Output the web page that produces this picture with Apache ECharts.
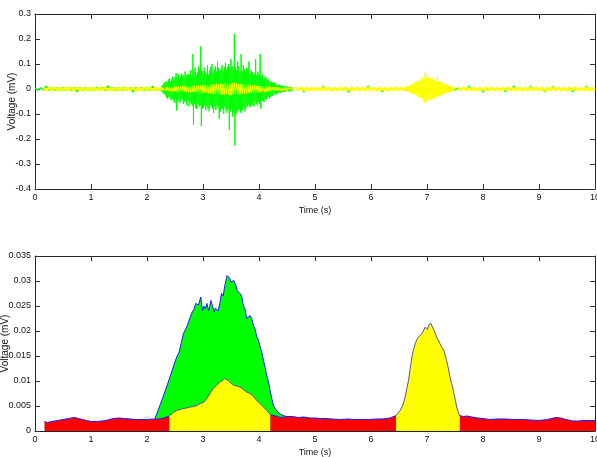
<!DOCTYPE html>
<html>
<head>
<meta charset="utf-8">
<script src="https://cdn.jsdelivr.net/npm/echarts@6/dist/echarts.min.js"></script>
<style>
  html, body { margin: 0; padding: 0; background: #fff; }
  #chart { width: 597px; height: 457px; }
</style>
</head>
<body>
<div id="chart"></div>
<script>
// ---- raw signals (top panel), values in uV, plotted in mV ----
// each block: start time, step (s), samples
var greenQuietA = [4,-5,5,-4,11,-5,4,-5,5,-4, 5,-4,4,-5,5,-11,4,-5,5,-4, 4,-5,5,-4,5,-5,12,-4,5,-5, 4,-5,5,-4,4,-11,5,-4,5,-5, 4,-5,11,-5,4];
var greenBurst = [
  6,-8,10,-12,15,-18,22,-20,28,-25,
  30,-35,25,-40,38,-30,42,-36,30,-45,
  40,-38,50,-45,35,-55,48,-40,64,-86,
  45,-50,60,-42,38,-55,50,-48,62,-40,
  55,-60,45,-52,70,-48,58,-65,50,-45,
  60,-70,55,-50,75,-60,48,-66,140,-144,
  70,-60,85,-75,55,-80,66,-58,90,-70,
  80,-65,170,-148,72,-80,60,-75,85,-66,
  70,-85,62,-70,95,-78,58,-90,75,-64,
  88,-72,100,-80,65,-95,78,-70,90,-84,
  70,-66,110,-75,85,-120,72,-90,80,-76,
  95,-80,70,-100,88,-72,105,-85,78,-95,
  90,-80,100,-164,85,-90,120,-78,92,-110,
  80,-95,220,-226,88,-100,75,-90,110,-85,
  90,-80,70,-95,140,-88,72,-84,95,-70,
  80,-90,66,-75,85,-68,78,-62,110,-70,
  60,-72,75,-58,68,-66,55,-70,62,-50,
  120,-60,55,-65,70,-52,58,-60,140,-78,
  50,-45,58,-48,40,-52,45,-38,50,-42,
  38,-35,42,-30,35,-40,28,-32,30,-26,
  25,-28,22,-20,26,-18,20,-22,16,-18,
  15,-14,18,-12,14,-16,12,-10,14,-12,
  10,-12,9,-11,12,-8,10,-9,8,-10,
  9,-7,8,-9,7,-8,6
];
var greenQuietB = [
  5,-4,4,-11,5,-4,5,-5,4,-5, 11,-4,5,-5,4,-5,5,-4,4,-12,
  5,-4,5,-5,4,-4,12,-5,4,-5, 5,-11,4,-5,5,-4,5,-4,4,-5,
  4,-5,11,-4,5,-5,4,-5,5,-11, 5,-4,4,-5,12,-4,5,-5,4,-5,
  5,-4,11,-5,4,-5,5,-12,4,-5, 4,-5,5,-4,5,-11,4,-5,11,-4,
  5,-5,4,-5,12,-4,5,-5,4,-11, 5,-4,11,-5,4,-5,5,-4,5,-11,
  4,-5,5,-4,11,-5,4,-5
];
var yellowQuietA = [4,-5,5,-4,6,-5,4,-6,5,-4, 5,-5,6,-4,4,-5,5,-6,4,-5, 6,-4,5,-5,4,-6,5,-4,6,-5, 4,-5,5,-6,4,-4,6,-5,5,-4, 5,-6,4,-5];
var yellowBurstA = [
  7,-8,9,-7,10,-9,8,-10,11,-9,
  10,-12,9,-11,12,-10,13,-11,10,-12,
  12,-13,11,-14,13,-12,15,-13,12,-14,
  14,-15,13,-16,15,-14,17,-15,16,-18,
  18,-17,20,-19,17,-21,22,-18,20,-22,
  21,-24,19,-22,25,-20,23,-24,21,-25,
  24,-22,26,-21,22,-24,20,-23,21,-19,
  19,-20,17,-18,18,-16,17,-15,14,-16,
  15,-14,13,-15,12,-13,12,-11,11,-12,
  10,-11,10,-9,9,-10,8,-9,8,-7,
  8,-7,7,-8,6,-7,7,-6,6,-7,
  6,-5,6,-6,5,-6
];
var yellowQuietB = [5,-4,6,-5,4,-6,5,-5,4,-5, 6,-4,5,-6,4,-5,5,-4,6,-5, 4,-6,5,-4,5,-5,6,-4,4,-6, 5,-5,4,-6,5,-4,6,-5,5,-6];
var yellowBurstB = [
  8,-9,10,-8,12,-11,10,-13,14,-12,
  16,-18,15,-20,22,-19,25,-21,28,-24,
  30,-26,34,-32,28,-36,40,-30,35,-38,
  45,-40,38,-48,52,-57,69,-45,42,-50,
  60,-42,48,-38,44,-46,40,-35,46,-40,
  38,-42,35,-32,40,-36,30,-34,50,-28,
  32,-30,28,-26,30,-24,25,-22,24,-20,
  20,-18,22,-16,18,-15,16,-14,14,-12,
  12,-11,10,-9,10,-8,8,-7,6,-5
];
var yellowQuietC = [5,-4,6,-5,4,-5,5,-6,4,-5, 6,-4,5,-5,4,-6,5,-4,6,-5, 4,-5,5,-6,4,-4,6,-5,5,-4, 5,-6,4,-5,6,-4,5,-5,4,-6, 5,-4,6,-5,4,-5,5,-6,4,-5];

// ---- envelopes (bottom panel), mV ----
var env1Time = [2.14,2.16,2.22,2.29,2.35,2.41,2.47,2.53,2.57,2.61,2.65,2.68,2.71,2.75,2.80,2.84,2.87,2.89,2.92,2.96,2.99,3.02,3.04,3.07,3.10,3.12,3.14,3.17,3.20,3.22,3.24,3.27,3.30,3.33,3.36,3.39,3.43,3.45,3.48,3.50,3.53,3.55,3.57,3.59,3.61,3.64,3.66,3.69,3.72,3.75,3.78,3.81,3.84,3.87,3.90,3.93,3.96,3.99,4.02,4.05,4.08,4.11,4.14,4.17,4.20,4.23,4.26,4.30,4.34,4.38,4.43,4.49];
var env1 = [0.0024,0.0028,0.0048,0.0069,0.0088,0.0108,0.0128,0.0148,0.0156,0.0175,0.0195,0.0198,0.0208,0.0221,0.0236,0.0244,0.0255,0.0258,0.0252,0.0268,0.0241,0.0250,0.0244,0.0255,0.0241,0.0249,0.0261,0.0250,0.0238,0.0246,0.0248,0.0240,0.0255,0.0275,0.0270,0.0291,0.0311,0.0307,0.0305,0.0298,0.0295,0.0301,0.0298,0.0290,0.0281,0.0284,0.0275,0.0270,0.0251,0.0244,0.0225,0.0229,0.0231,0.0225,0.0211,0.0204,0.0188,0.0182,0.0168,0.0157,0.0141,0.0127,0.0110,0.0098,0.0080,0.0064,0.0050,0.0043,0.0038,0.0034,0.0031,0.0029];
var env2Time = [0.17,0.22,0.3,0.4,0.5,0.6,0.7,0.78,0.85,0.92,1.0,1.1,1.2,1.3,1.4,1.5,1.6,1.7,1.8,1.9,2.0,2.1,2.2,2.3,2.4,
  2.47,2.53,2.59,2.65,2.71,2.77,2.83,2.89,2.95,3.01,3.07,3.12,3.18,3.24,3.30,3.35,3.39,3.42,3.45,3.50,3.54,3.60,3.66,3.72,3.78,3.84,3.89,3.96,4.01,4.06,4.10,4.14,4.2,
  4.25,4.3,4.35,4.4,4.5,4.6,4.7,4.8,4.91,5.0,5.1,5.2,5.3,5.45,5.6,5.7,5.85,5.98,6.1,6.2,6.34,6.45,
  6.52,6.57,6.61,6.64,6.67,6.70,6.73,6.76,6.79,6.82,6.85,6.88,6.91,6.94,6.97,7.01,7.03,7.05,7.07,7.09,7.11,7.14,7.17,7.21,7.26,7.30,7.35,7.38,7.41,7.44,7.47,7.50,7.53,7.58,
  7.65,7.72,7.8,7.9,8.0,8.12,8.25,8.4,8.55,8.71,8.85,9.0,9.15,9.3,9.38,9.45,9.6,9.7,9.8,9.9,10];
var env2 = [0.0019,0.0017,0.0019,0.0021,0.0023,0.0025,0.0027,0.0025,0.0023,0.0021,0.0019,0.0019,0.0020,0.0022,0.0025,0.0026,0.0025,0.0024,0.0023,0.0023,0.0023,0.0024,0.0024,0.0026,0.0030,
  0.0037,0.0041,0.0043,0.0045,0.0046,0.0048,0.0049,0.0051,0.0055,0.0057,0.0065,0.0074,0.0085,0.0091,0.0098,0.0101,0.0105,0.0104,0.0101,0.0096,0.0092,0.0090,0.0088,0.0083,0.0078,0.0075,0.0071,0.0061,0.0056,0.0050,0.0046,0.0041,0.0033,
  0.0031,0.0030,0.0028,0.0027,0.0029,0.0029,0.0027,0.0028,0.0026,0.0026,0.0025,0.0025,0.0024,0.0023,0.0024,0.0023,0.0023,0.0023,0.0024,0.0024,0.0026,0.0031,
  0.0041,0.0052,0.0068,0.0085,0.0101,0.0125,0.0148,0.0163,0.0175,0.0183,0.0188,0.0190,0.0195,0.0199,0.0208,0.0203,0.0212,0.0208,0.0215,0.0212,0.0205,0.0198,0.0188,0.0180,0.0168,0.0162,0.0141,0.0126,0.0108,0.0095,0.0081,0.0065,0.0048,0.0031,
  0.0029,0.0030,0.0028,0.0026,0.0025,0.0023,0.0024,0.0024,0.0023,0.0023,0.0022,0.0021,0.0023,0.0027,0.0026,0.0024,0.0020,0.0020,0.0021,0.0021,0.0021];
// stretches where channel 2 is active (yellow)
var activeSpans = [[2.4, 4.2], [6.45, 7.58]];

var xTicks = [0, 10, 1];
var top_yRange = [-0.4, 0.3, 0.1];
var bot_yRange = [0, 0.035, 0.005];

function seg(t0, dt, vals) {
  var out = [];
  for (var i = 0; i < vals.length; i++) {
    out.push([+(t0 + i * dt).toFixed(3), vals[i] / 1000]);
  }
  return out;
}
var GAP = [['-', '-']];
function inSpan(t, strict) {
  for (var i = 0; i < activeSpans.length; i++) {
    var a = activeSpans[i][0], b = activeSpans[i][1];
    if (strict ? (t > a && t < b) : (t >= a && t <= b)) return true;
  }
  return false;
}

// quiet stretches are drawn a bit thicker so the dense noise reads as a band
var greenQuiet = [].concat(seg(0, 0.05, greenQuietA), GAP, seg(4.65, 0.05, greenQuietB));
var greenLoud = seg(2.24, 0.01, greenBurst);
var yellowQuiet = [].concat(seg(0.15, 0.05, yellowQuietA), GAP, seg(4.65, 0.05, yellowQuietB), GAP, seg(7.55, 0.05, yellowQuietC));
var yellowLoud = [].concat(seg(2.32, 0.02, yellowBurstA), GAP, seg(6.61, 0.01, yellowBurstB));

var env1Data = [], redData = [], yelData = [];
for (var i = 0; i < env1Time.length; i++) env1Data.push([env1Time[i], env1[i]]);
for (var j = 0; j < env2Time.length; j++) {
  var t = env2Time[j];
  redData.push([t, inSpan(t, true) ? '-' : env2[j]]);
  yelData.push([t, inSpan(t, false) ? env2[j] : '-']);
}

var txt = { color: '#111', fontSize: 9, fontFamily: '"Liberation Sans Narrow", "Liberation Sans", Arial, sans-serif' };
var boxLine = { show: true, onZero: false, lineStyle: { color: '#222', width: 1 } };
var tick = { show: true, inside: true, length: 5, lineStyle: { color: '#333' } };

function xAx(gi) {
  return [{
    type: 'value', gridIndex: gi, position: 'bottom', min: xTicks[0], max: xTicks[1], interval: xTicks[2],
    axisLine: boxLine, axisTick: tick, splitLine: { show: false },
    axisLabel: Object.assign({ margin: 4, showMinLabel: true, showMaxLabel: true, hideOverlap: false }, txt),
    name: 'Time (s)', nameLocation: 'middle', nameGap: 17, nameMoveOverlap: false,
    nameTextStyle: { color: '#111', fontSize: 9, fontFamily: txt.fontFamily }
  }, {
    type: 'value', gridIndex: gi, position: 'top', min: xTicks[0], max: xTicks[1], interval: xTicks[2],
    axisLine: boxLine, axisTick: tick, splitLine: { show: false }, axisLabel: { show: false }
  }];
}
function yAx(gi, r, gap) {
  return [{
    type: 'value', gridIndex: gi, position: 'left', min: r[0], max: r[1], interval: r[2],
    axisLine: boxLine, axisTick: tick, splitLine: { show: false },
    axisLabel: Object.assign({ margin: 4, showMinLabel: true, showMaxLabel: true, hideOverlap: false }, txt),
    name: 'Voltage (mV)', nameLocation: 'middle', nameGap: gap, nameRotate: 90, nameMoveOverlap: false,
    nameTextStyle: { color: '#111', fontSize: 10, fontFamily: '"Liberation Sans", Arial, sans-serif' }
  }, {
    type: 'value', gridIndex: gi, position: 'right', min: r[0], max: r[1], interval: r[2],
    axisLine: boxLine, axisTick: tick, splitLine: { show: false }, axisLabel: { show: false }
  }];
}

function sig(name, data, color, width, z) {
  return { name: name, type: 'line', xAxisIndex: 0, yAxisIndex: 0, data: data, showSymbol: false, symbol: 'none',
    connectNulls: false, lineStyle: { color: color, width: width }, z: z };
}

var option = {
  animation: false,
  backgroundColor: '#fff',
  grid: [
    { left: 35, right: 2, top: 14, height: 175, outerBoundsMode: 'none' },
    { left: 35, right: 2, top: 256, height: 175, outerBoundsMode: 'none' }
  ],
  xAxis: [].concat(xAx(0), xAx(1)),
  yAxis: [].concat(yAx(0, top_yRange, 18), yAx(1, bot_yRange, 25)),
  series: [
    sig('ch1 quiet', greenQuiet, '#00ff00', 1.5, 2),
    sig('ch1', greenLoud, '#00ff00', 1, 2),
    sig('ch2 quiet', yellowQuiet, '#ffff00', 2.5, 3),
    sig('ch2', yellowLoud, '#ffff00', 1, 3),
    { name: 'env1', type: 'line', xAxisIndex: 2, yAxisIndex: 2, data: env1Data, showSymbol: false, symbol: 'none',
      lineStyle: { color: '#1a1aff', width: 1 }, areaStyle: { color: '#00ff00', opacity: 1 }, z: 2 },
    { name: 'rest', type: 'line', xAxisIndex: 2, yAxisIndex: 2, data: redData, showSymbol: false, symbol: 'none',
      connectNulls: false, lineStyle: { color: '#1a1aff', width: 1 }, areaStyle: { color: '#ff0000', opacity: 1 }, z: 3 },
    { name: 'active', type: 'line', xAxisIndex: 2, yAxisIndex: 2, data: yelData, showSymbol: false, symbol: 'none',
      connectNulls: false, lineStyle: { color: '#55559a', width: 1 }, areaStyle: { color: '#ffff00', opacity: 1 }, z: 3 }
  ]
};

var chart = echarts.init(document.getElementById('chart'));
chart.setOption(option);
</script>
</body>
</html>
